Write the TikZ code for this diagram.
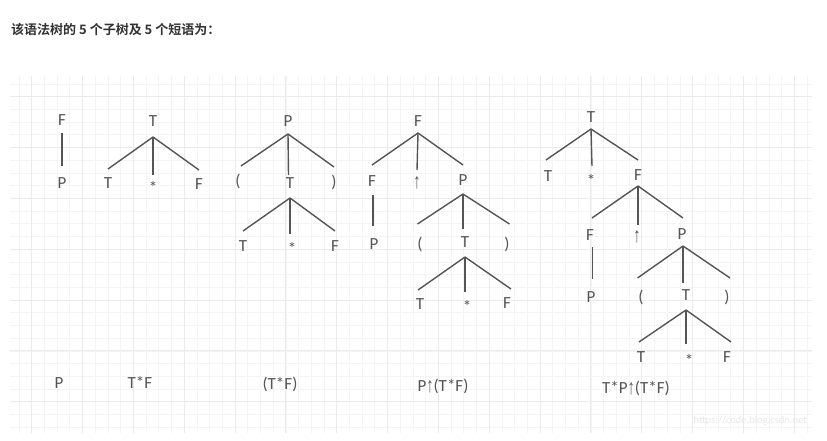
\documentclass[tikz,border=0pt]{standalone}
\usepackage{fontspec}
\setmainfont{Carlito}
\newfontfamily\cjkb{Noto Sans CJK SC Bold}
\newfontfamily\arrf{Liberation Sans}
\newcommand\uparw{{\arrf\raisebox{-0.8pt}{\scalebox{0.85}[1.25]{↑}}}}
\newcommand\lowstar{\raisebox{-3.5pt}{*}}
\definecolor{txt}{HTML}{555555}
\definecolor{gminor}{HTML}{F4F4F4}
\definecolor{gmajor}{HTML}{EBEBEB}
\begin{document}
\begin{tikzpicture}[x=1pt,y=-1pt,
  sym/.style={font=\fontsize{17}{17}\selectfont, text=txt, inner sep=0pt, text height=11pt, text depth=0pt, anchor=center},
  phr/.style={sym},
  br/.style={draw=txt, line width=1.4pt},
  minor/.style={draw=gminor, line width=0.8pt},
  major/.style={draw=gmajor, line width=0.9pt}]
\useasboundingbox[fill=white] (0,0) rectangle (827,441);
% grid
\begin{scope}
\clip (10,76) rectangle (812,433);
\foreach \i in {0,...,64} \draw[minor] ({6.3+12.71*\i},76) -- ++(0,357);
\foreach \i in {0,...,28} \draw[minor] (10,{84.0+12.71*\i}) -- ++(802,0);
\foreach \i in {0,...,15} \draw[major] ({31.7+50.84*\i},76) -- ++(0,357);
\foreach \i in {0,...,6} \draw[major] (10,{96.7+50.84*\i}) -- ++(802,0);
\end{scope}
% title
\node[anchor=west, inner sep=0pt, text=black!80, font=\cjkb\fontsize{13}{13}\selectfont] (title) at (11,30) {该语法树的 5 个子树及 5 个短语为：};
% tree 1
\node[sym] (a) at (62,120) {F};
\node[sym] (a1) at (62,183) {P};
\draw[br] ([yshift=-13pt]a.center) -- ([yshift=17pt]a1.center);
% tree 2
\node[sym] (b) at (153,121) {T};
\node[sym] (b1) at (108,183) {T};
\node[sym] (b2) at (153,184) {\lowstar};
\node[sym] (b3) at (199,184) {F};
\draw[br] ([yshift=-16pt]b.center) -- ([yshift=14pt]b1.center);
\draw[br] ([yshift=-16pt]b.center) -- ([yshift=9pt]b2.center);
\draw[br] ([yshift=-16pt]b.center) -- ([yshift=14pt]b3.center);
% tree 3
\node[sym] (c) at (288,121) {P};
\node[sym] (c1) at (238,181) {(};
\node[sym] (c2) at (290,183) {T};
\node[sym] (c3) at (334,182) {)};
\draw[br] ([yshift=-13pt]c.center) -- ([xshift=3pt,yshift=15pt]c1.center);
\draw[br] ([yshift=-13pt]c.center) -- ([xshift=-1.5pt,yshift=8pt]c2.center);
\draw[br] ([yshift=-13pt]c.center) -- ([yshift=15pt]c3.center);
\node[sym] (c21) at (243,246) {T};
\node[sym] (c22) at (292,245) {\lowstar};
\node[sym] (c23) at (335,246) {F};
\draw[br] ([yshift=-15pt]c2.center) -- ([yshift=15pt]c21.center);
\draw[br] ([yshift=-15pt]c2.center) -- ([xshift=-2pt,yshift=11pt]c22.center);
\draw[br] ([yshift=-15pt]c2.center) -- ([yshift=15pt]c23.center);
% tree 4
\node[sym] (d) at (418,121) {F};
\node[sym] (d1) at (372,181) {F};
\node[sym] (d2) at (417,182) {\uparw};
\node[sym] (d3) at (463,180) {P};
\draw[br] ([yshift=-12pt]d.center) -- ([yshift=16pt]d1.center);
\draw[br] ([yshift=-12pt]d.center) -- ([yshift=12pt]d2.center);
\draw[br] ([yshift=-12pt]d.center) -- ([yshift=15pt]d3.center);
\node[sym] (d11) at (374,244) {P};
\draw[br] ([xshift=1pt,yshift=-14pt]d1.center) -- ([xshift=-1pt,yshift=18pt]d11.center);
\node[sym] (d31) at (420,244) {(};
\node[sym] (d32) at (465,242) {T};
\node[sym] (d33) at (507,244) {)};
\draw[br] ([yshift=-14pt]d3.center) -- ([xshift=-2.5pt,yshift=20pt]d31.center);
\draw[br] ([yshift=-14pt]d3.center) -- ([xshift=-2pt,yshift=13pt]d32.center);
\draw[br] ([yshift=-14pt]d3.center) -- ([xshift=2.5pt,yshift=20pt]d33.center);
\node[sym] (d321) at (420,304) {T};
\node[sym] (d322) at (467,303) {\lowstar};
\node[sym] (d323) at (507,303) {F};
\draw[br] ([yshift=-15pt]d32.center) -- ([xshift=-2pt,yshift=14pt]d321.center);
\draw[br] ([yshift=-15pt]d32.center) -- ([xshift=-2pt,yshift=11pt]d322.center);
\draw[br] ([yshift=-15pt]d32.center) -- ([xshift=4pt,yshift=14pt]d323.center);
% tree 5
\node[sym] (e) at (591,117) {T};
\node[sym] (e1) at (548,176) {T};
\node[sym] (e2) at (591,177) {\lowstar};
\node[sym] (e3) at (638,175) {F};
\draw[br] ([yshift=-12pt]e.center) -- ([xshift=-2pt,yshift=16pt]e1.center);
\draw[br] ([yshift=-12pt]e.center) -- ([xshift=1pt,yshift=11pt]e2.center);
\draw[br] ([yshift=-12pt]e.center) -- ([yshift=15pt]e3.center);
\node[sym] (e31) at (590,235) {F};
\node[sym] (e32) at (637,236) {\uparw};
\node[sym] (e33) at (682,234) {P};
\draw[br] ([yshift=-11pt]e3.center) -- ([xshift=2pt,yshift=17pt]e31.center);
\draw[br] ([yshift=-11pt]e3.center) -- ([xshift=1pt,yshift=11pt]e32.center);
\draw[br] ([yshift=-11pt]e3.center) -- ([xshift=1pt,yshift=16pt]e33.center);
\node[sym] (e311) at (591,297) {P};
\draw[br] ([xshift=2.5pt,yshift=-12pt]e31.center) -- ([xshift=1.5pt,yshift=18pt]e311.center);
\node[sym] (e331) at (641,297) {(};
\node[sym] (e332) at (686,295) {T};
\node[sym] (e333) at (727,297) {)};
\draw[br] ([xshift=1pt,yshift=-12pt]e33.center) -- ([xshift=-3.5pt,yshift=19pt]e331.center);
\draw[br] ([xshift=1pt,yshift=-12pt]e33.center) -- ([xshift=-3pt,yshift=12pt]e332.center);
\draw[br] ([xshift=1pt,yshift=-12pt]e33.center) -- ([xshift=3pt,yshift=19pt]e333.center);
\node[sym] (e3321) at (641,357) {T};
\node[sym] (e3322) at (689,357) {\lowstar};
\node[sym] (e3323) at (727,357) {F};
\draw[br] ([yshift=-15pt]e332.center) -- ([xshift=-2pt,yshift=15pt]e3321.center);
\draw[br] ([yshift=-15pt]e332.center) -- ([xshift=-3pt,yshift=13pt]e3322.center);
\draw[br] ([yshift=-15pt]e332.center) -- ([xshift=4pt,yshift=15pt]e3323.center);
% phrases
\node[phr] (p1) at (59,383) {P};
\node[phr] (p2) at (140,383) {T*F};
\node[phr] (p3) at (280,384) {(T*F)};
\node[phr] (p4) at (443,386) {P\uparw(T*F)};
\node[phr] (p5) at (636,388) {T*P\uparw(T*F)};
% watermark
\node[anchor=east, inner sep=0pt, text=black!9, font=\fontsize{10.5}{10.5}\selectfont] (wm) at (807,421) {https://code.blog.csdn.net};
\end{tikzpicture}
\end{document}
